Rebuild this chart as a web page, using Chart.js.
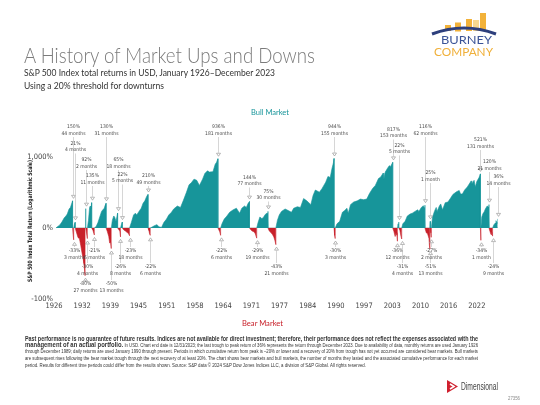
<!DOCTYPE html>
<html>
<head>
<meta charset="utf-8">
<script src="https://cdn.jsdelivr.net/npm/chart.js@4.4.1/dist/chart.umd.min.js"></script>
<style>
  html, body { margin: 0; padding: 0; background: #fff; }
  #wrap { position: relative; width: 540px; height: 405px; overflow: hidden; font-family: Lato, "Open Sans", sans-serif; }
  #chart { position: absolute; left: 0; top: 0; }
  .t { position: absolute; white-space: nowrap; transform-origin: 0 0; line-height: 1; }
  .b { font-weight: bold; }
  .foot { font-family: "Liberation Sans Narrow", "Liberation Sans", Arial, sans-serif; color: #333; }
</style>
</head>
<body>
<div id="wrap">
  <canvas id="chart" width="540" height="405"></canvas>

  <svg class="t" style="left:428px;top:8px" width="72" height="30" viewBox="0 0 72 30">
    <rect x="17" y="17" width="6" height="6" fill="#f2b23a"/>
    <rect x="27" y="14.5" width="6" height="9" fill="#f2b23a"/>
    <rect x="38" y="11" width="6" height="12" fill="#f2b23a"/>
    <rect x="45" y="12" width="6" height="11" fill="#f7d890"/>
    <rect x="52" y="5" width="6" height="18" fill="#f2b23a"/>
    <path d="M4 26 Q36 14 68 26" stroke="#2d3f7c" stroke-width="3" fill="none"/>
  </svg>
  <div class="t" data-w="51" style="left:441px;top:34px;font-size:11px;color:#3b5497">BURNEY</div>
  <div class="t" data-w="59" style="left:434px;top:46px;font-size:11px;color:#f0b03a">COMPANY</div>

  <div class="t" data-w="291" style="left:24px;top:44px;font-size:22px;font-weight:300;color:#7b7b7b">A History of Market Ups and Downs</div>
  <div class="t" data-w="251" style="left:24px;top:68px;font-size:9.5px;color:#333">S&amp;P 500 Index total returns in USD, January 1926–December 2023</div>
  <div class="t" data-w="140" style="left:24px;top:81px;font-size:9.5px;color:#333">Using a 20% threshold for downturns</div>

  <div class="t" data-w="38" style="left:251px;top:108px;font-size:8px;color:#17959a">Bull Market</div>
  <div class="t" data-w="41" style="left:242px;top:319px;font-size:8px;color:#c8202a">Bear Market</div>

  <div class="t foot b" data-w="453" style="left:25px;top:334.5px;font-size:7px">Past performance is no guarantee of future results. Indices are not available for direct investment; therefore, their performance does not reflect the expenses associated with the</div>
  <div class="t foot" data-w="453" style="left:25px;top:341px;font-size:5px"><span class="b" style="font-size:7px">management of an actual portfolio.</span> In USD. Chart end date is 12/31/2023; the last trough to peak return of 36% represents the return through December 2023. Due to availability of data, monthly returns are used January 1926</div>
  <div class="t foot" data-w="453" style="left:25px;top:349px;font-size:5px">through December 1989; daily returns are used January 1990 through present. Periods in which cumulative return from peak is –20% or lower and a recovery of 20% from trough has not yet occurred are considered bear markets. Bull markets</div>
  <div class="t foot" data-w="453" style="left:25px;top:356px;font-size:5px">are subsequent rises following the bear market trough through the next recovery of at least 20%. The chart shows bear markets and bull markets, the number of months they lasted and the associated cumulative performance for each market</div>
  <div class="t foot" data-w="341" style="left:25px;top:363px;font-size:5px">period. Results for different time periods could differ from the results shown. Source: S&amp;P data © 2024 S&amp;P Dow Jones Indices LLC, a division of S&amp;P Global. All rights reserved.</div>

  <svg class="t" style="left:446px;top:379px" width="13" height="15" viewBox="0 0 13 15">
    <path d="M1 1 L12 7.5 L1 14 Z" fill="#d0202e"/>
    <path d="M4 5 L8 7.5 L4 10" stroke="#fff" stroke-width="1.6" fill="none"/>
  </svg>
  <div class="t" data-w="37" style="left:461px;top:382px;font-size:10px;color:#444;font-family:'Liberation Sans Narrow',Arial,sans-serif">Dimensional</div>
  <div class="t" data-w="12" style="left:508px;top:396px;font-size:5px;color:#888;font-family:Arial,sans-serif">27356</div>
</div>

<script>
const NARROW = '"Liberation Sans Narrow", "Arial Narrow", "DejaVu Sans Condensed", sans-serif';
const TEAL = '#17959a';
const RED = '#c8202a';

// dates (decimal years) where each market period starts/ends
const turnYears = [1926.0, 1929.67, 1929.92, 1930.25, 1932.45, 1932.62, 1932.95, 1933.9, 1934.5,
  1937.1, 1938.25, 1939.65, 1940.3, 1940.7, 1942.3, 1946.4, 1946.9, 1961.9, 1962.5, 1968.9,
  1970.5, 1973.0, 1974.75, 1987.65, 1987.9, 2000.65, 2001.7, 2002.0, 2002.65, 2007.8, 2008.9,
  2009.0, 2009.2, 2020.1, 2020.2, 2022.0, 2022.8, 2023.95];

// cumulative return (%) of each period, bull and bear alternating
const periodReturns = [150, -33, 21, -80, 92, -30, 135, -21, 130, -50, 65, -26, 22, -23, 210, -22,
  936, -22, 144, -29, 75, -43, 944, -30, 817, -36, 22, -31, 116, -51, 25, -27, 521, -34, 120, -24, 36];
const periodMonths = [44, 3, 4, 27, 2, 4, 11, 6, 31, 13, 18, 8, 5, 18, 49, 6,
  181, 6, 77, 19, 30, 21, 155, 3, 153, 12, 5, 4, 62, 13, 1, 2, 131, 1, 21, 9, 14];

// path inside the periods: [year, cumulative return %]
const path1920s = [[1926.3, 4], [1926.8, 10], [1927.3, 22], [1927.8, 40], [1928.2, 50], [1928.5, 60],
  [1928.9, 90], [1929.2, 100], [1929.45, 125], [1929.8, -20], [1930.1, 14]];
const path1930s = [[1930.5, -12], [1930.9, -28], [1931.2, -30], [1931.5, -45], [1931.8, -58], [1932.0, -64],
  [1932.2, -70], [1932.53, 45], [1932.8, -18], [1933.2, 30], [1933.45, 100], [1933.6, 110], [1933.75, 90],
  [1934.2, -8], [1934.9, 5], [1935.3, 20], [1935.7, 45], [1936.1, 75], [1936.4, 85], [1936.7, 95],
  [1936.9, 115], [1937.4, -12], [1937.7, -25], [1937.9, -40], [1938.1, -38], [1938.5, 30], [1938.8, 50],
  [1939.0, 45], [1939.3, 25], [1939.5, 45], [1939.9, -5], [1940.15, -10]];
const path1940s50s = [[1940.5, 12], [1941.0, -6], [1941.4, -10], [1941.8, -14], [1942.1, -18],
  [1942.7, 20], [1943.2, 55], [1943.6, 65], [1943.9, 55], [1944.4, 75], [1944.9, 95], [1945.3, 130],
  [1945.7, 150], [1946.1, 190], [1946.6, -8], [1946.75, -18], [1947.3, 3], [1947.8, 8], [1948.4, 12],
  [1948.8, 4], [1949.4, 2], [1949.9, 20], [1950.5, 35], [1951.0, 55], [1951.6, 70], [1952.1, 90],
  [1952.9, 110], [1953.6, 100], [1954.2, 150], [1954.9, 230], [1955.5, 330], [1956.0, 360], [1956.6, 420],
  [1957.2, 400], [1957.8, 320], [1958.5, 420], [1959.0, 530], [1959.6, 590], [1960.0, 560], [1960.8, 570],
  [1961.3, 760], [1961.6, 820]];
const path1960s70s = [[1962.1, -6], [1962.3, -12], [1962.8, 15], [1963.3, 35], [1963.9, 50], [1964.5, 70],
  [1965.3, 85], [1966.0, 95], [1966.7, 65], [1967.2, 95], [1967.8, 110], [1968.2, 100], [1968.6, 130],
  [1969.2, -6], [1969.5, -10], [1969.9, -12], [1970.2, -18], [1970.35, -24], [1970.8, 20], [1971.2, 45],
  [1971.6, 38], [1971.9, 40], [1972.4, 58], [1972.8, 65], [1973.3, -10], [1973.7, -15], [1974.0, -20],
  [1974.3, -26], [1974.55, -35], [1975.1, 30], [1975.5, 55], [1976.0, 75], [1976.8, 90], [1977.5, 80],
  [1978.2, 70], [1978.7, 95], [1979.5, 105], [1980.2, 100], [1980.9, 170], [1981.6, 150], [1982.5, 120],
  [1983.0, 200], [1983.5, 260], [1984.4, 235], [1985.0, 280], [1985.8, 370], [1986.3, 470], [1986.8, 450],
  [1987.2, 650], [1987.5, 800]];
const path1980s90s = [[1987.78, -22], [1988.3, 15], [1988.9, 25], [1989.5, 70], [1990.0, 80], [1990.5, 95],
  [1990.8, 65], [1991.3, 120], [1992.0, 140], [1992.8, 150], [1993.5, 165], [1994.2, 160], [1994.9, 165],
  [1995.5, 220], [1996.2, 280], [1996.8, 320], [1997.5, 430], [1998.0, 460], [1998.55, 540], [1998.7, 420],
  [1999.0, 560], [1999.5, 650], [1999.9, 720], [2000.2, 700]];
const path2000s = [[2000.9, -10], [2001.2, -25], [2001.4, -15], [2001.6, -22], [2001.85, 15], [2002.25, -8],
  [2002.5, -25], [2002.9, 15], [2003.4, 25], [2003.9, 50], [2004.5, 60], [2005.0, 65], [2005.6, 75],
  [2006.2, 85], [2006.45, 75], [2007.0, 100], [2007.45, 112], [2007.6, 100], [2008.1, -15], [2008.4, -18],
  [2008.7, -30], [2008.8, -45], [2009.1, -15]];
const path2010s20s = [[2009.5, 45], [2009.9, 75], [2010.3, 100], [2010.5, 75], [2011.0, 110], [2011.3, 125],
  [2011.7, 85], [2012.3, 135], [2012.9, 140], [2013.5, 175], [2014.0, 210], [2014.8, 240], [2015.4, 255],
  [2015.7, 215], [2016.1, 215], [2016.6, 260], [2017.2, 300], [2018.05, 390], [2018.2, 340], [2018.7, 400],
  [2018.97, 300], [2019.3, 380], [2019.8, 450], [2020.4, 45], [2020.7, 65], [2020.9, 70], [2021.2, 90],
  [2021.6, 110], [2021.8, 105], [2022.2, -10], [2022.45, -20], [2022.6, -12], [2023.1, 12], [2023.4, 18],
  [2023.55, 28], [2023.8, 18]];

const xTickLabels = ['1926', '1932', '1939', '1945', '1951', '1958', '1964', '1971', '1977', '1984',
  '1990', '1997', '2003', '2010', '2016', '2022'];
const yTickLabels = ['-100%', '0%', '1,000%'];
const yTitle = 'S&P 500 Index Total Return (Logarithmic Scale)';

// layout: centre line of each label (page px), in time order
const bullLabelY = [127, 143.5, 160, 176, 127, 160, 174.5, 176, 127, 177.5, 191.5, 127, 129.5, 145.5, 127, 173, 140, 162, 177];
const bearLabelY = [251, 284, 267, 251, 284, 267, 251, 267, 251, 251, 267, 251, 251, 267, 267, 251, 251, 267];

const Y_MIN = 1 / 11, Y_MAX = 41;
const X_TICK_START = 1925.56, X_TICK_STEP = 6.25;

function buildSeries() {
  const inner = [].concat(path1920s, path1930s, path1940s50s, path1960s70s, path1980s90s, path2000s, path2010s20s);
  const pts = [];
  periodReturns.forEach((r, i) => {
    const t0 = turnYears[i], t1 = turnYears[i + 1];
    pts.push({ x: t0, y: 1 });
    inner.filter(p => p[0] > t0 && p[0] < t1)
      .sort((a, b) => a[0] - b[0])
      .forEach(p => pts.push({ x: p[0], y: 1 + p[1] / 100 }));
    pts.push({ x: t1, y: 1 + r / 100 });
  });
  return pts;
}

const annotate = {
  id: 'annotate',
  afterDatasetsDraw(chart) {
    const { ctx, scales: { x, y } } = chart;
    let bull = 0, bear = 0;
    ctx.save();
    ctx.textAlign = 'center';
    ctx.textBaseline = 'middle';
    periodReturns.forEach((r, i) => {
      const px = Math.round(x.getPixelForValue(turnYears[i + 1])) + 0.5;
      const py = y.getPixelForValue(1 + r / 100);
      const m = periodMonths[i];
      const up = r > 0;
      const ly = up ? bullLabelY[bull++] : bearLabelY[bear++];

      ctx.strokeStyle = '#c4c4c4';
      ctx.lineWidth = 0.7;
      ctx.beginPath();
      if (up) { ctx.moveTo(px, ly + 10); ctx.lineTo(px, py - 6); }
      else { ctx.moveTo(px, py + 6); ctx.lineTo(px, ly - 4); }
      ctx.stroke();

      ctx.strokeStyle = '#9a9a9a';
      ctx.beginPath();
      if (up) { ctx.moveTo(px - 2, py - 5.5); ctx.lineTo(px + 2, py - 5.5); ctx.lineTo(px, py - 2.5); }
      else { ctx.moveTo(px - 2, py + 5.5); ctx.lineTo(px + 2, py + 5.5); ctx.lineTo(px, py + 2.5); }
      ctx.closePath();
      ctx.stroke();

      ctx.fillStyle = '#4a4a4a';
      ctx.font = '5px ' + NARROW;
      ctx.fillText(r + '%', px, ly);
      ctx.fillText(m + (m === 1 ? ' month' : ' months'), px, ly + 6.5);
    });

    // axis title, squeezed to the reference length
    ctx.translate(30, 221);
    ctx.rotate(-Math.PI / 2);
    ctx.fillStyle = '#222';
    ctx.font = 'bold 6px ' + NARROW;
    const w = ctx.measureText(yTitle).width;
    ctx.scale(122 / w, 1);
    ctx.fillText(yTitle, 0, 0);
    ctx.restore();
  }
};

const chart = new Chart(document.getElementById('chart').getContext('2d'), {
  type: 'line',
  data: {
    datasets: [{
      data: buildSeries(),
      borderWidth: 0.6,
      pointRadius: 0,
      tension: 0,
      segment: {
        borderColor: c => Math.min(c.p0.parsed.y, c.p1.parsed.y) < 1 ? RED : TEAL,
      },
      fill: { target: { value: 1 }, above: TEAL, below: RED },
    }],
  },
  options: {
    responsive: false,
    animation: false,
    layout: { padding: { top: 118, right: 42, bottom: 0, left: 0 } },
    plugins: { legend: { display: false }, tooltip: { enabled: false } },
    scales: {
      x: {
        type: 'linear',
        min: 1926,
        max: 2024,
        afterBuildTicks: s => { s.ticks = xTickLabels.map((l, i) => ({ value: X_TICK_START + i * X_TICK_STEP })); },
        afterFit: s => { s.height = 106; },
        ticks: {
          callback: (v, i) => xTickLabels[i],
          autoSkip: false, maxRotation: 0, padding: 3,
          color: '#444', font: { family: NARROW, size: 7.5 },
        },
        grid: { display: false, drawTicks: false },
        border: { display: false },
      },
      y: {
        type: 'logarithmic',
        min: Y_MIN,
        max: Y_MAX,
        afterBuildTicks: s => { s.ticks = [Y_MIN, 1, 11].map(v => ({ value: v })); },
        afterFit: s => { s.width = 56; },
        ticks: {
          callback: (v, i) => yTickLabels[i],
          autoSkip: false, padding: 3,
          color: '#444', font: { family: NARROW, size: 7.5 },
        },
        grid: {
          color: c => (c.tick && c.tick.value === 1) ? '#c9c9c9' : 'rgba(0,0,0,0)',
          lineWidth: 0.8,
          drawTicks: false,
        },
        border: { display: false },
      },
    },
  },
  plugins: [annotate],
});

function fitText() {
  document.querySelectorAll('[data-w]').forEach(el => {
    el.style.transform = 'none';
    const w = el.getBoundingClientRect().width;
    el.style.transform = 'scaleX(' + (parseFloat(el.dataset.w) / w) + ')';
  });
}
fitText();
document.fonts.ready.then(fitText);
</script>
</body>
</html>
